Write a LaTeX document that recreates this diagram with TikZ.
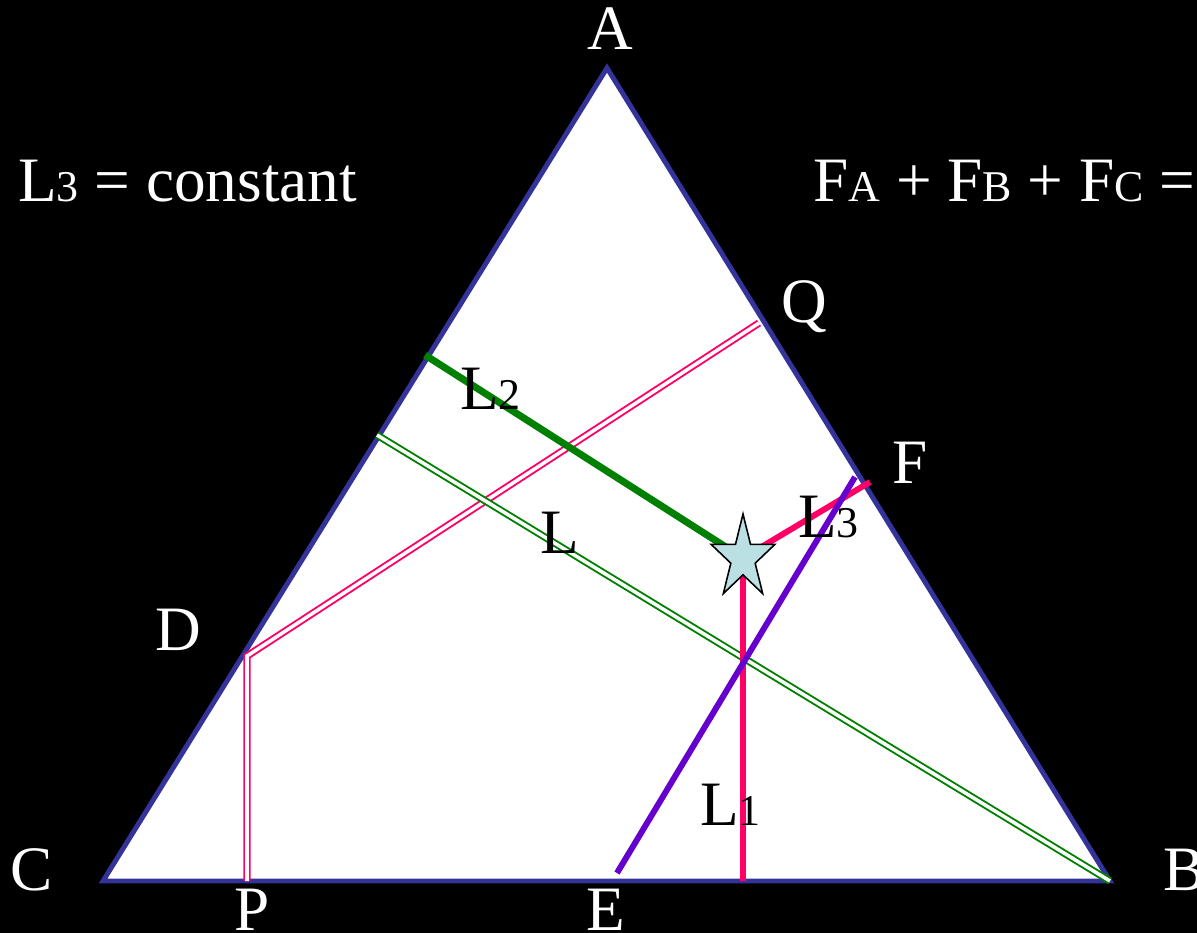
\documentclass[tikz,border=0pt]{standalone}
\usepackage{fontspec}
\setmainfont{Liberation Serif}
\definecolor{triblue}{RGB}{51,51,153}
\definecolor{hotpink}{RGB}{255,0,102}
\definecolor{leafgreen}{RGB}{0,128,0}
\definecolor{lineviolet}{RGB}{102,0,204}
\definecolor{starblue}{RGB}{187,224,227}
\newcommand{\lsub}[1]{{\fontsize{25}{25}\selectfont #1}}
\begin{document}
\begin{tikzpicture}[x=0.02cm,y=-0.02cm,
  lbl/.style={font=\fontsize{36}{40}\selectfont,inner sep=0pt},
  white lbl/.style={lbl,text=white},
  pinkdouble/.style={draw=hotpink,double=white,line width=1.1pt,double distance=2pt},
  greendouble/.style={draw=leafgreen,double=white,line width=1.1pt,double distance=2pt}]
  \useasboundingbox (0,0) rectangle (1197,933);
  \fill[black] (0,0) rectangle (1197,933);
  % corners and end points
  \coordinate (A) at (607,68);
  \coordinate (B) at (1110,881);
  \coordinate (C) at (103,881);
  \coordinate (Pb) at (247,881);
  \coordinate (Dc) at (247,656);
  \coordinate (Qc) at (759,323);
  \coordinate (Gl) at (377,435);
  \coordinate (G2) at (425,355);
  \coordinate (S) at (743,558);
  \coordinate (Fc) at (870,482);
  \coordinate (L1b) at (743,881);
  \coordinate (Eb) at (617,873);
  \coordinate (Et) at (855,477);
  \filldraw[fill=white,draw=triblue,line width=2.8pt] (A) -- (B) -- (C) -- cycle;
  \draw[pinkdouble] (Pb) -- (Dc) -- (Qc);
  \draw[greendouble] (Gl) -- (B);
  \draw[leafgreen,line width=4pt] (G2) -- (S);
  \draw[hotpink,line width=3.4pt] (S) -- (Fc);
  \draw[hotpink,line width=3.4pt] (S) -- (L1b);
  \draw[lineviolet,line width=3.4pt] (Eb) -- (Et);
  % the star
  \filldraw[fill=starblue,draw=black,line width=0.9pt,line join=miter]
    plot[samples at={0,...,9},variable=\k]
    ({743+33.5*(1-0.618*mod(\k,2))*cos(90+36*\k)},{558-44*(1-0.618*mod(\k,2))*sin(90+36*\k)}) -- cycle;
  % labels
  \node[white lbl,anchor=base] (labA) at (610,50) {A};
  \node[white lbl,anchor=base] (labC) at (32,890) {C};
  \node[white lbl,anchor=base west] (labB) at (1163,890) {B};
  \node[white lbl,anchor=base] (labP) at (252,930) {P};
  \node[white lbl,anchor=base] (labE) at (606,930) {E};
  \node[white lbl,anchor=base] (labD) at (178,650) {D};
  \node[white lbl,anchor=base west] (labQ) at (781,322) {Q};
  \node[white lbl,anchor=base west] (labF) at (892,483) {F};
  \node[lbl,anchor=base west] (labL2) at (460,409) {L\lsub{2}};
  \node[lbl,anchor=base west] (labL) at (540,553) {L};
  \node[lbl,anchor=base west] (labL3) at (798,537) {L\lsub{3}};
  \node[lbl,anchor=base west] (labL1) at (700,825) {L\lsub{1}};
  \node[white lbl,anchor=base west] (const) at (18,201) {L\lsub{3} = constant};
  \node[white lbl,anchor=base west] (sum) at (813,201) {F\lsub{A} + F\lsub{B} + F\lsub{C} = };
\end{tikzpicture}
\end{document}
